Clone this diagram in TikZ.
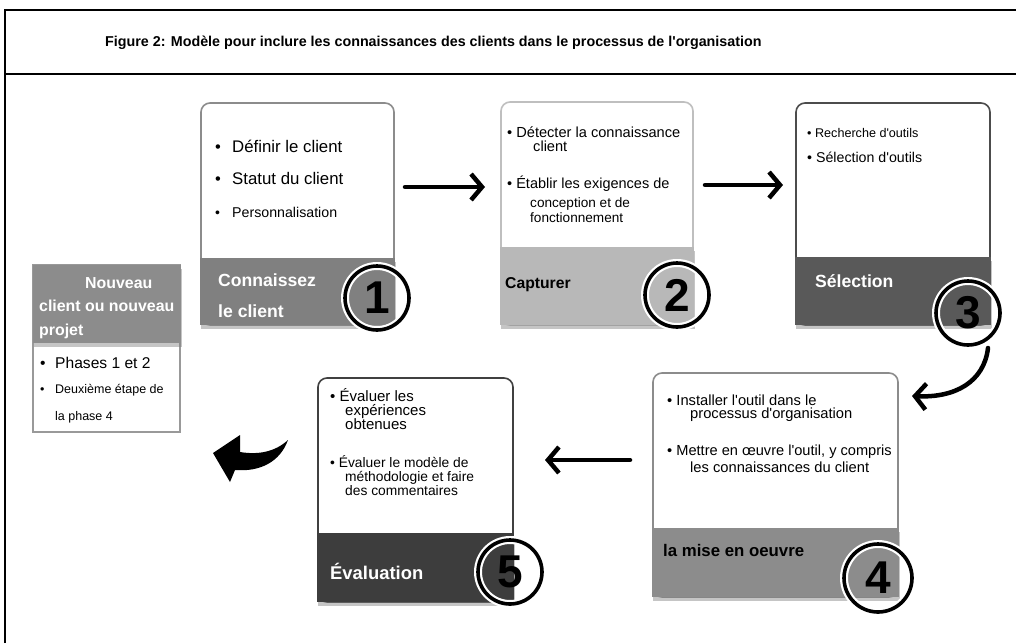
\documentclass[tikz,border=0pt]{standalone}
\usepackage{fontspec}
\setmainfont{Liberation Sans}
\usetikzlibrary{arrows.meta,shadows}
\newcommand{\apos}{\textquotesingle}
\begin{document}
\begin{tikzpicture}[x=1pt,y=-1pt,
  card/.style={draw, rounded corners=9pt, line width=1.6pt, fill=white, inner sep=0pt},
  band/.style={rectangle, inner sep=0pt, drop shadow={shadow xshift=1pt, shadow yshift=-4pt, opacity=0.45}},
  txt/.style={anchor=base west, inner sep=0pt},
  numc/.style={circle, draw=black, line width=3.6pt, minimum size=64pt, inner sep=0pt,
     preaction={draw=white, line width=8pt}, font=\bfseries\fontsize{46}{46}\selectfont},
  flow/.style={line width=4.5pt, line cap=round, line join=round, -{Straight Barb[length=11pt,width=26pt]}},
]
\useasboundingbox (0,0) rectangle (1016,643);
\fill[white] (0,0) rectangle (1016,643);
% frame
\draw[line width=1.3pt] (5,643) -- (5,10) -- (1016,10);
\draw[line width=1.3pt] (5,74) -- (1016,74);
\node[txt, font=\bfseries\fontsize{14.3}{16}\selectfont] (title) at (105,46) {Figure 2: Modèle pour inclure les connaissances des clients dans le processus de l\apos organisation};

% box 1
\node[card, draw=black!45, minimum width=193pt, minimum height=222pt] (b1) at (297.5,214) {};
\node[band, fill=black!50, minimum width=194.5pt, minimum height=67pt] (s1) at (297.5,291.5) {};
% box 2
\node[card, draw=black!25, minimum width=192pt, minimum height=223pt] (b2) at (597,213.5) {};
\node[band, fill=black!28, minimum width=193.5pt, minimum height=78pt] (s2) at (597,286) {};
% box 3
\node[card, draw=black!70, minimum width=194pt, minimum height=222pt] (b3) at (893,214) {};
\node[band, fill=black!65, minimum width=195.5pt, minimum height=68pt] (s3) at (893,291) {};
% box 4
\node[card, draw=black!45, minimum width=245pt, minimum height=224pt] (b4) at (775.5,485) {};
\node[band, fill=black!45, minimum width=246.5pt, minimum height=69pt] (s4) at (775.5,562.5) {};
% box 5
\node[card, draw=black!75, minimum width=195pt, minimum height=224pt] (b5) at (415.5,490) {};
\node[band, fill=black!76, minimum width=196.5pt, minimum height=69pt] (s5) at (415.5,567.5) {};
% box N
\node[draw=black!40, line width=2pt, fill=white, minimum width=147pt, minimum height=167pt, inner sep=0pt] (bn) at (106.5,348.5) {};
\node[band, fill=black!45, minimum width=148pt, minimum height=78pt] (sn) at (106.5,304) {};

% texts box 1
\node[txt, font=\fontsize{16.5}{18}\selectfont] (t1a) at (215,152) {•};
\node[txt, font=\fontsize{16.8}{18}\selectfont] (t1b) at (232,152) {Définir le client};
\node[txt, font=\fontsize{16.5}{18}\selectfont] (t1c) at (215,184) {•};
\node[txt, font=\fontsize{16.8}{18}\selectfont] (t1d) at (232,184) {Statut du client};
\node[txt, font=\fontsize{14}{16}\selectfont] (t1e) at (215,217) {•};
\node[txt, font=\fontsize{14.2}{16}\selectfont] (t1f) at (232,217) {Personnalisation};
\node[txt, text=white, font=\bfseries\fontsize{17.6}{20}\selectfont] (t1g) at (218,286) {Connaissez};
\node[txt, text=white, font=\bfseries\fontsize{17.6}{20}\selectfont] (t1h) at (218,317) {le client};

% texts box 2
\node[txt, font=\fontsize{14.6}{16}\selectfont] (t2a) at (507,137) {• Détecter la connaissance};
\node[txt, font=\fontsize{14.6}{16}\selectfont] (t2b) at (533,151) {client};
\node[txt, font=\fontsize{14.5}{16}\selectfont] (t2c) at (507,188) {• Établir les exigences de};
\node[txt, font=\fontsize{13.6}{15}\selectfont] (t2d) at (530,207) {conception et de};
\node[txt, font=\fontsize{13.6}{15}\selectfont] (t2e) at (530,222) {fonctionnement};
\node[txt, font=\bfseries\fontsize{15.7}{18}\selectfont] (t2f) at (505,288) {Capturer};

% texts box 3
\node[txt, font=\fontsize{12.6}{14}\selectfont] (t3a) at (807,137) {• Recherche d\apos outils};
\node[txt, font=\fontsize{14.2}{16}\selectfont] (t3b) at (807,162) {• Sélection d\apos outils};
\node[txt, text=white, font=\bfseries\fontsize{17.6}{20}\selectfont] (t3c) at (815,287) {Sélection};

% texts box 4
\node[txt, font=\fontsize{14.7}{16}\selectfont] (t4a) at (667,405) {• Installer l\apos outil dans le};
\node[txt, font=\fontsize{14.7}{16}\selectfont] (t4b) at (690,418) {processus d\apos organisation};
\node[txt, font=\fontsize{14.6}{17}\selectfont] (t4c) at (667,455) {• Mettre en œuvre l\apos outil, y compris};
\node[txt, font=\fontsize{14.7}{16}\selectfont] (t4d) at (690,472) {les connaissances du client};
\node[txt, font=\bfseries\fontsize{16.8}{19}\selectfont] (t4e) at (663,556) {la mise en oeuvre};

% texts box 5
\node[txt, font=\fontsize{15}{17}\selectfont] (t5a) at (330,401) {• Évaluer les};
\node[txt, font=\fontsize{15}{17}\selectfont] (t5b) at (345,415) {expériences};
\node[txt, font=\fontsize{15}{17}\selectfont] (t5c) at (345,429) {obtenues};
\node[txt, font=\fontsize{13.8}{15}\selectfont] (t5d) at (330,467) {• Évaluer le modèle de};
\node[txt, font=\fontsize{13.8}{15}\selectfont] (t5e) at (345,481) {méthodologie et faire};
\node[txt, font=\fontsize{13.8}{15}\selectfont] (t5f) at (345,495) {des commentaires};
\node[txt, text=white, font=\bfseries\fontsize{18.4}{21}\selectfont] (t5g) at (330,579) {Évaluation};

% texts box N
\node[txt, text=white, font=\bfseries\fontsize{15.9}{18}\selectfont] (tna) at (85,288) {Nouveau};
\node[txt, text=white, font=\bfseries\fontsize{15.9}{18}\selectfont] (tnb) at (39,311) {client ou nouveau};
\node[txt, text=white, font=\bfseries\fontsize{15.9}{18}\selectfont] (tnc) at (39,335) {projet};
\node[txt, font=\fontsize{15.6}{17}\selectfont] (tnd) at (40,368) {•};
\node[txt, font=\fontsize{15.6}{17}\selectfont] (tne) at (55,368) {Phases 1 et 2};
\node[txt, font=\fontsize{12.5}{14}\selectfont] (tnf) at (40,393) {•};
\node[txt, font=\fontsize{12.5}{14}\selectfont] (tng) at (55,393) {Deuxième étape de};
\node[txt, font=\fontsize{12.5}{14}\selectfont] (tnh) at (55,420) {la phase 4};

% number circles
\node[numc] (c1) at (377,298) {1};
\node[numc] (c2) at (677,295) {2};
\node[numc] (c3) at (968,313) {3};
\node[numc, minimum size=68pt] (c4) at (878,578) {4};
\node[numc] (c5) at (510,572) {5};

% arrows
\coordinate (a12s) at (405,187);
\coordinate (a12e) at (485,187);
\coordinate (a23s) at (705,185);
\coordinate (a23e) at (783,185);
\coordinate (a34s) at (988,348);
\coordinate (a34e) at (912,396);
\coordinate (a45s) at (630,460);
\coordinate (a45e) at (545,460);
\draw[flow] (a12s) -- (a12e);
\draw[flow] (a23s) -- (a23e);
\draw[flow] (a34s) .. controls (984,382) and (955,398) .. (a34e);
\draw[flow] (a45s) -- (a45e);
% filled curved arrow back to start
\fill[black] (288,440) .. controls (275,452) and (258,455) .. (240,452) -- (240,435) -- (213,453) -- (230,482) -- (235,470) .. controls (260,472) and (280,462) .. (288,440) -- cycle;
\end{tikzpicture}
\end{document}
